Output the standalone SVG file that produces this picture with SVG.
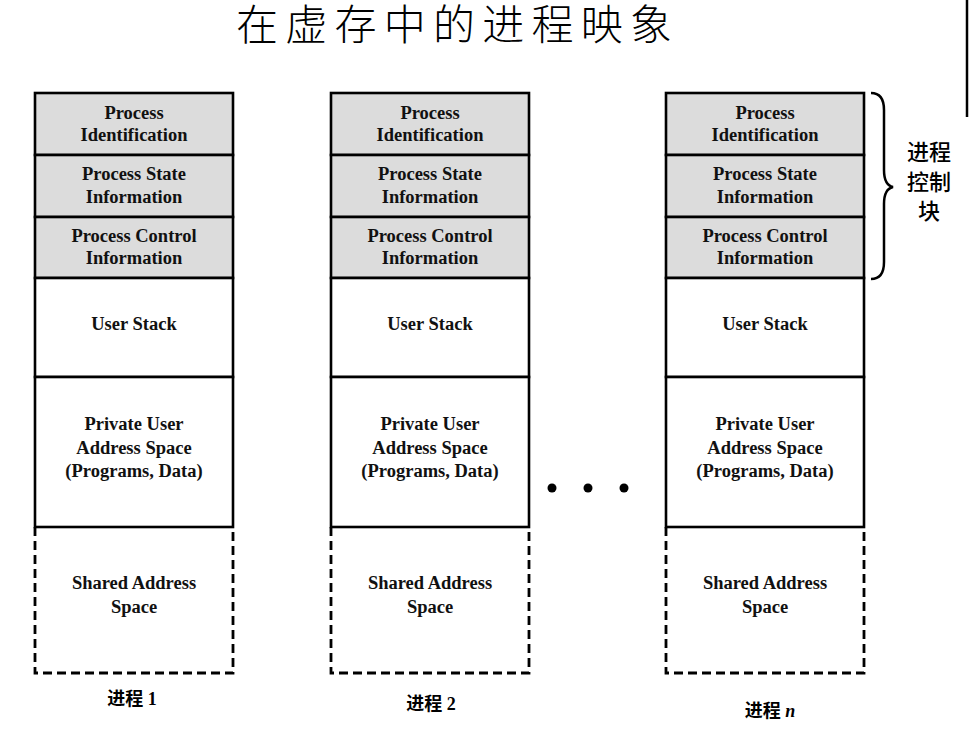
<svg xmlns="http://www.w3.org/2000/svg" width="976" height="740" viewBox="0 0 976 740">
<style>
.pcb{fill:#dcdcdc;stroke:#000;stroke-width:2.6}
.cell{fill:#fff;stroke:#000;stroke-width:2.6}
.dash{fill:none;stroke:#000;stroke-width:2.8;stroke-dasharray:9,5}
.t{font-family:"Liberation Serif","Times New Roman",serif;font-weight:bold;font-size:18.5px;text-anchor:middle;fill:#111}
.lbl{font-family:"Liberation Serif","Noto Sans CJK SC",serif;font-weight:bold;font-size:18px;text-anchor:middle;fill:#000}
.cjk{font-family:"Noto Sans CJK SC",sans-serif;font-weight:bold;font-size:18px;fill:#000}
.side{font-family:"Noto Sans CJK SC",sans-serif;font-weight:500;font-size:22px;text-anchor:middle;fill:#000}
.title{font-family:"Noto Sans CJK SC",sans-serif;font-weight:300;font-size:42px;text-anchor:middle;fill:#000}
</style>
<defs>
<g id="column">
  <rect class="pcb" x="0" y="93" width="198" height="62"/>
  <rect class="pcb" x="0" y="155" width="198" height="62"/>
  <rect class="pcb" x="0" y="217" width="198" height="61"/>
  <rect class="cell" x="0" y="278" width="198" height="99"/>
  <rect class="cell" x="0" y="377" width="198" height="150"/>
  <path class="dash" d="M0,527 V673 H198 V527"/>
  <text class="t" x="99" y="119">Process</text>
  <text class="t" x="99" y="141">Identification</text>
  <text class="t" x="99" y="180">Process State</text>
  <text class="t" x="99" y="203">Information</text>
  <text class="t" x="99" y="242">Process Control</text>
  <text class="t" x="99" y="264">Information</text>
  <text class="t" x="99" y="330">User Stack</text>
  <text class="t" x="99" y="430">Private User</text>
  <text class="t" x="99" y="454">Address Space</text>
  <text class="t" x="99" y="477">(Programs, Data)</text>
  <text class="t" x="99" y="589">Shared Address</text>
  <text class="t" x="99" y="613">Space</text>
</g>
</defs>
<text class="title" x="454" y="40" textLength="436" lengthAdjust="spacing">在虚存中的进程映象</text>
<line x1="967" y1="0" x2="967" y2="117" stroke="#000" stroke-width="2.5"/>
<g id="process1">
  <use href="#column" transform="translate(35,0)"/>
  <text class="lbl" x="132" y="705"><tspan class="cjk">进程</tspan> 1</text>
</g>
<g id="process2">
  <use href="#column" transform="translate(331,0)"/>
  <text class="lbl" x="431" y="710"><tspan class="cjk">进程</tspan> 2</text>
</g>
<g id="ellipsis">
  <circle cx="552" cy="488" r="4.5" fill="#000"/>
  <circle cx="588" cy="488" r="4.5" fill="#000"/>
  <circle cx="624" cy="488" r="4.5" fill="#000"/>
</g>
<g id="processN">
  <use href="#column" transform="translate(666,0)"/>
  <text class="lbl" x="770" y="717"><tspan class="cjk">进程</tspan> <tspan font-style="italic">n</tspan></text>
</g>
<g id="connectors">
  <path d="M871,93 Q884,93 884,110 L884,170 Q884,185 893,187 Q884,189 884,204 L884,262 Q884,279 871,279" fill="none" stroke="#000" stroke-width="2.5"/>
</g>
<g id="pcb-label">
  <text class="side" x="929" y="160">进程</text>
  <text class="side" x="929" y="190">控制</text>
  <text class="side" x="929" y="219">块</text>
</g>
</svg>
